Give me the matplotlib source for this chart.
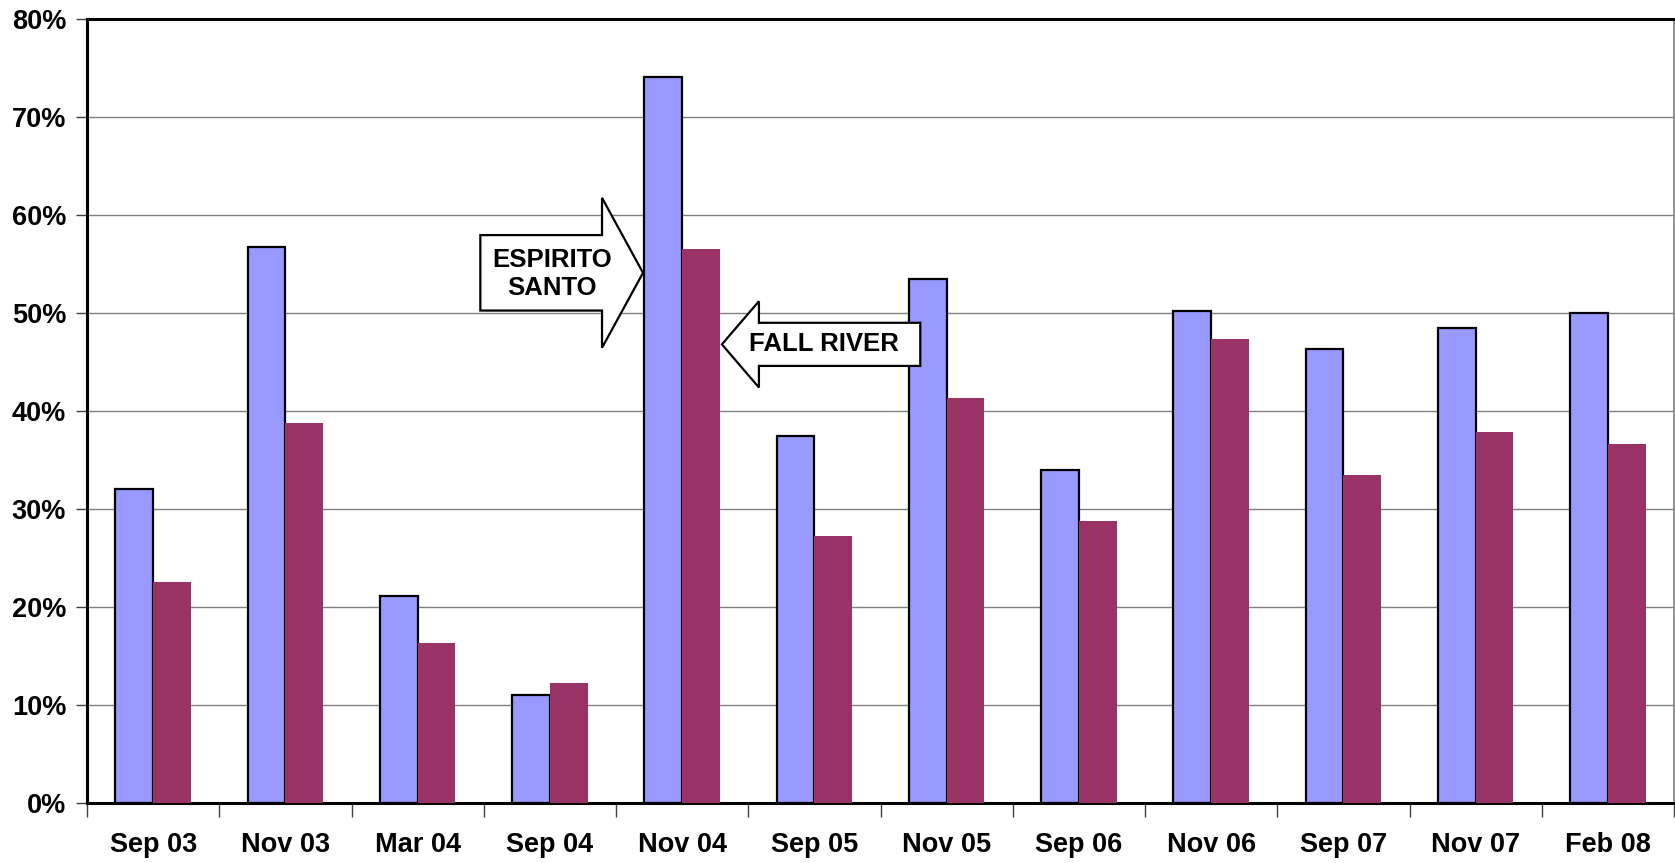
import numpy as np
import matplotlib.pyplot as plt
from matplotlib.patches import Polygon
from matplotlib.ticker import FuncFormatter, FixedLocator

plt.rcParams['font.family'] = ['Liberation Sans', 'DejaVu Sans']
plt.rcParams['font.weight'] = 'bold'

# survey dates
dates = ["Sep 03", "Nov 03", "Mar 04", "Sep 04", "Nov 04", "Sep 05",
         "Nov 05", "Sep 06", "Nov 06", "Sep 07", "Nov 07", "Feb 08"]
# percent values
espirito_santo = [32.0, 56.7, 21.1, 11.0, 74.1, 37.4, 53.5, 34.0, 50.2, 46.3, 48.5, 50.0]
fall_river = [22.6, 38.8, 16.3, 12.2, 56.5, 27.2, 41.3, 28.8, 47.3, 33.5, 37.9, 36.6]

blue = "#9999FF"
maroon = "#993366"
w = 1 / 3.5  # excel gap width 150%

fig = plt.figure(figsize=(16.75, 8.63), dpi=100)
ax = fig.add_axes([87 / 1675, 1 - 803 / 863, (1674 - 87) / 1675, (803 - 19) / 863])

x = np.arange(len(dates))
b1 = ax.bar(x - w / 2, espirito_santo, w, color=blue, edgecolor="black", linewidth=1.6, zorder=3)
b2 = ax.bar(x + w / 2, fall_river, w, color=maroon, linewidth=0, zorder=3)

ax.set_xlim(-0.5, len(dates) - 0.5)
ax.set_ylim(0, 80)
ax.set_yticks(np.arange(0, 81, 10))
ax.yaxis.set_major_formatter(FuncFormatter(lambda v, p: "{:.0f}%".format(v)))
ax.yaxis.grid(True, color="#808080", linewidth=1.0, zorder=0)
ax.tick_params(axis="y", length=8, width=1, color="#404040", pad=7, labelsize=19.5)

ax.set_xticks(x)
ax.set_xticklabels(dates)
ax.tick_params(axis="x", which="major", length=0, pad=21, labelsize=19.5)
ax.xaxis.set_minor_locator(FixedLocator(np.arange(-0.5, len(dates), 1.0)))
ax.tick_params(axis="x", which="minor", length=10, width=1, color="#404040")

for s in ["left", "top", "bottom"]:
    ax.spines[s].set_linewidth(2.2)
    ax.spines[s].set_color("black")
ax.spines["right"].set_color("#808080")
ax.spines["right"].set_linewidth(1.2)


def block_arrow(tip_x, tip_y, head_x, tail_x, half_box, half_head):
    pts = [(tail_x, tip_y - half_box), (head_x, tip_y - half_box),
           (head_x, tip_y - half_head), (tip_x, tip_y),
           (head_x, tip_y + half_head), (head_x, tip_y + half_box),
           (tail_x, tip_y + half_box)]
    ax.add_patch(Polygon(pts, closed=True, facecolor="white", edgecolor="black",
                         linewidth=1.6, zorder=5, clip_on=False))


# Espirito Santo arrow points at the Nov 04 blue bar
i = dates.index("Nov 04")
es_tip = i - w - 0.01
block_arrow(es_tip, 54.1, es_tip - 0.31, es_tip - 1.23, 3.85, 7.65)
ax.text(es_tip - 0.69, 54.0, "ESPIRITO\nSANTO", ha="center", va="center",
        fontsize=18.5, fontweight="bold", linespacing=1.2, zorder=6)

# Fall River arrow points at the Nov 04 maroon bar
fr_tip = i + w + 0.015
block_arrow(fr_tip, 46.8, fr_tip + 0.28, fr_tip + 1.5, 2.2, 4.4)
ax.text(fr_tip + 0.77, 46.8, "FALL RIVER", ha="center", va="center",
        fontsize=18.5, fontweight="bold", zorder=6)

fig.savefig("out.png", dpi=100)
